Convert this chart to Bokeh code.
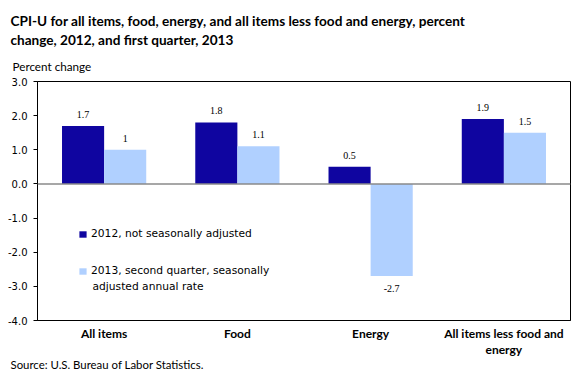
from bokeh.plotting import figure
from bokeh.models import (Range1d, FixedTicker, NumeralTickFormatter, Span, Title, Label,
                          ColumnDataSource, Legend, LegendItem, CDSView, IndexFilter)
from bokeh.embed import file_html
from bokeh.resources import INLINE

title_lines = ["CPI-U for all items, food, energy, and all items less food and energy, percent",
               "change, 2012, and first quarter, 2013"]
y_axis_title = "Percent change"
source_note = "Source: U.S. Bureau of Labor Statistics."
categories = ["All items", "Food", "Energy", "All items less food and\nenergy"]
values_2012 = [1.7, 1.8, 0.5, 1.9]
values_2013 = [1.0, 1.1, -2.7, 1.5]
labels_2012 = ["1.7", "1.8", "0.5", "1.9"]
labels_2013 = ["1", "1.1", "-2.7", "1.5"]
series_names = ["2012, not seasonally adjusted",
                "2013, second quarter, seasonally",
                "adjusted annual rate"]
y_ticks = [-4, -3, -2, -1, 0, 1, 2, 3]

DARK = "#0F05A0"
LIGHT = "#B0D0FF"
W, H = 578, 376
BL, BR, BT, BB = 37, 8, 81, 56
XMIN, XMAX, YMIN, YMAX = 0.0, 4.0, -4.0, 3.0
FW, FH = W - BL - BR, H - BT - BB

p = figure(width=W, height=H, output_backend="svg", toolbar_location=None,
           x_range=Range1d(XMIN, XMAX), y_range=Range1d(YMIN, YMAX),
           min_border_left=BL, min_border_right=BR, min_border_top=BT,
           min_border_bottom=BB, background_fill_color="white",
           border_fill_color="white")
p.outline_line_color = "black"
p.outline_line_width = 1
p.xgrid.visible = False
p.ygrid.visible = False

bw = 0.316
idx = list(range(len(categories)))
src = ColumnDataSource(dict(
    x1=[i + 0.5 - bw / 2 for i in idx], x2=[i + 0.5 + bw / 2 for i in idx],
    v1=values_2012, v2=values_2013, l1=labels_2012, l2=labels_2013))

r1 = p.vbar(x="x1", top="v1", bottom=0, width=bw, source=src,
            fill_color=DARK, line_color=None)
r2 = p.vbar(x="x2", top="v2", bottom=0, width=bw, source=src,
            fill_color=LIGHT, line_color=None)

p.add_layout(Span(location=0, dimension="width", line_color="#8a8a8a", line_width=1.5))

txt = dict(text_font="DejaVu Sans", text_font_size="10px", text_color="black",
           text_align="center")
p.text(x="x1", y="v1", text="l1", source=src, text_baseline="bottom", y_offset=-8, **txt)
pos = [i for i in idx if values_2013[i] >= 0]
neg = [i for i in idx if values_2013[i] < 0]
p.text(x="x2", y="v2", text="l2", source=src, view=CDSView(filter=IndexFilter(pos)),
       text_baseline="bottom", y_offset=-8, **txt)
p.text(x="x2", y="v2", text="l2", source=src, view=CDSView(filter=IndexFilter(neg)),
       text_baseline="top", y_offset=9, **txt)

xa = p.xaxis[0]
xa.ticker = FixedTicker(ticks=[i + 0.5 for i in idx])
xa.major_label_overrides = {i + 0.5: c for i, c in zip(idx, categories)}
xa.major_tick_line_color = None
xa.major_tick_out = 0
xa.major_tick_in = 0
xa.minor_tick_line_color = None
xa.minor_tick_out = 0
xa.axis_line_color = "black"
xa.major_label_text_font = "Lato"
xa.major_label_text_font_style = "bold"
xa.major_label_text_font_size = "12px"
xa.major_label_text_color = "black"
xa.major_label_text_line_height = 1.1
xa.major_label_standoff = 5

ya = p.yaxis[0]
ya.ticker = FixedTicker(ticks=y_ticks)
ya.formatter = NumeralTickFormatter(format="0.0")
ya.major_tick_in = 0
ya.major_tick_out = 4
ya.minor_tick_line_color = None
ya.axis_line_color = "black"
ya.major_tick_line_color = "black"
ya.major_label_text_font = "DejaVu Sans"
ya.major_label_text_font_size = "10px"
ya.major_label_text_color = "black"
ya.major_label_standoff = 6

legend = Legend(items=[LegendItem(label=series_names[0], renderers=[r1]),
                       LegendItem(label=series_names[1], renderers=[r2])],
                location=(41, 43), orientation="vertical",
                glyph_width=9, glyph_height=8, label_height=12, label_standoff=4,
                label_text_font="DejaVu Sans", label_text_font_size="10.7px",
                label_text_color="black", spacing=24, padding=2,
                border_line_color=None, background_fill_alpha=0)
p.add_layout(legend, "center")


def px_to_x(px):
    return XMIN + (px - BL) / FW * (XMAX - XMIN)


def py_to_y(py):
    return YMAX - (py - BT) / FH * (YMAX - YMIN)


p.add_layout(Label(x=px_to_x(92), y=py_to_y(286), text=series_names[2],
                   text_font="DejaVu Sans", text_font_size="10.7px",
                   text_color="black", text_baseline="middle", text_align="left"))

p.add_layout(Title(text=y_axis_title, align="left", offset=-25, standoff=17,
                   text_font="Lato", text_font_size="11.7px", text_font_style="normal",
                   text_color="black"), "above")
p.add_layout(Title(text="\n".join(title_lines), align="left", offset=-27, standoff=1,
                   text_font="Lato", text_font_size="13.6px", text_font_style="bold",
                   text_color="black", text_line_height=1.2), "above")
p.add_layout(Title(text=source_note, align="left", offset=-27, standoff=-10,
                   text_font="Lato", text_font_size="11.4px", text_font_style="normal",
                   text_color="black"), "below")

open("out.html", "w").write(file_html(p, INLINE))
